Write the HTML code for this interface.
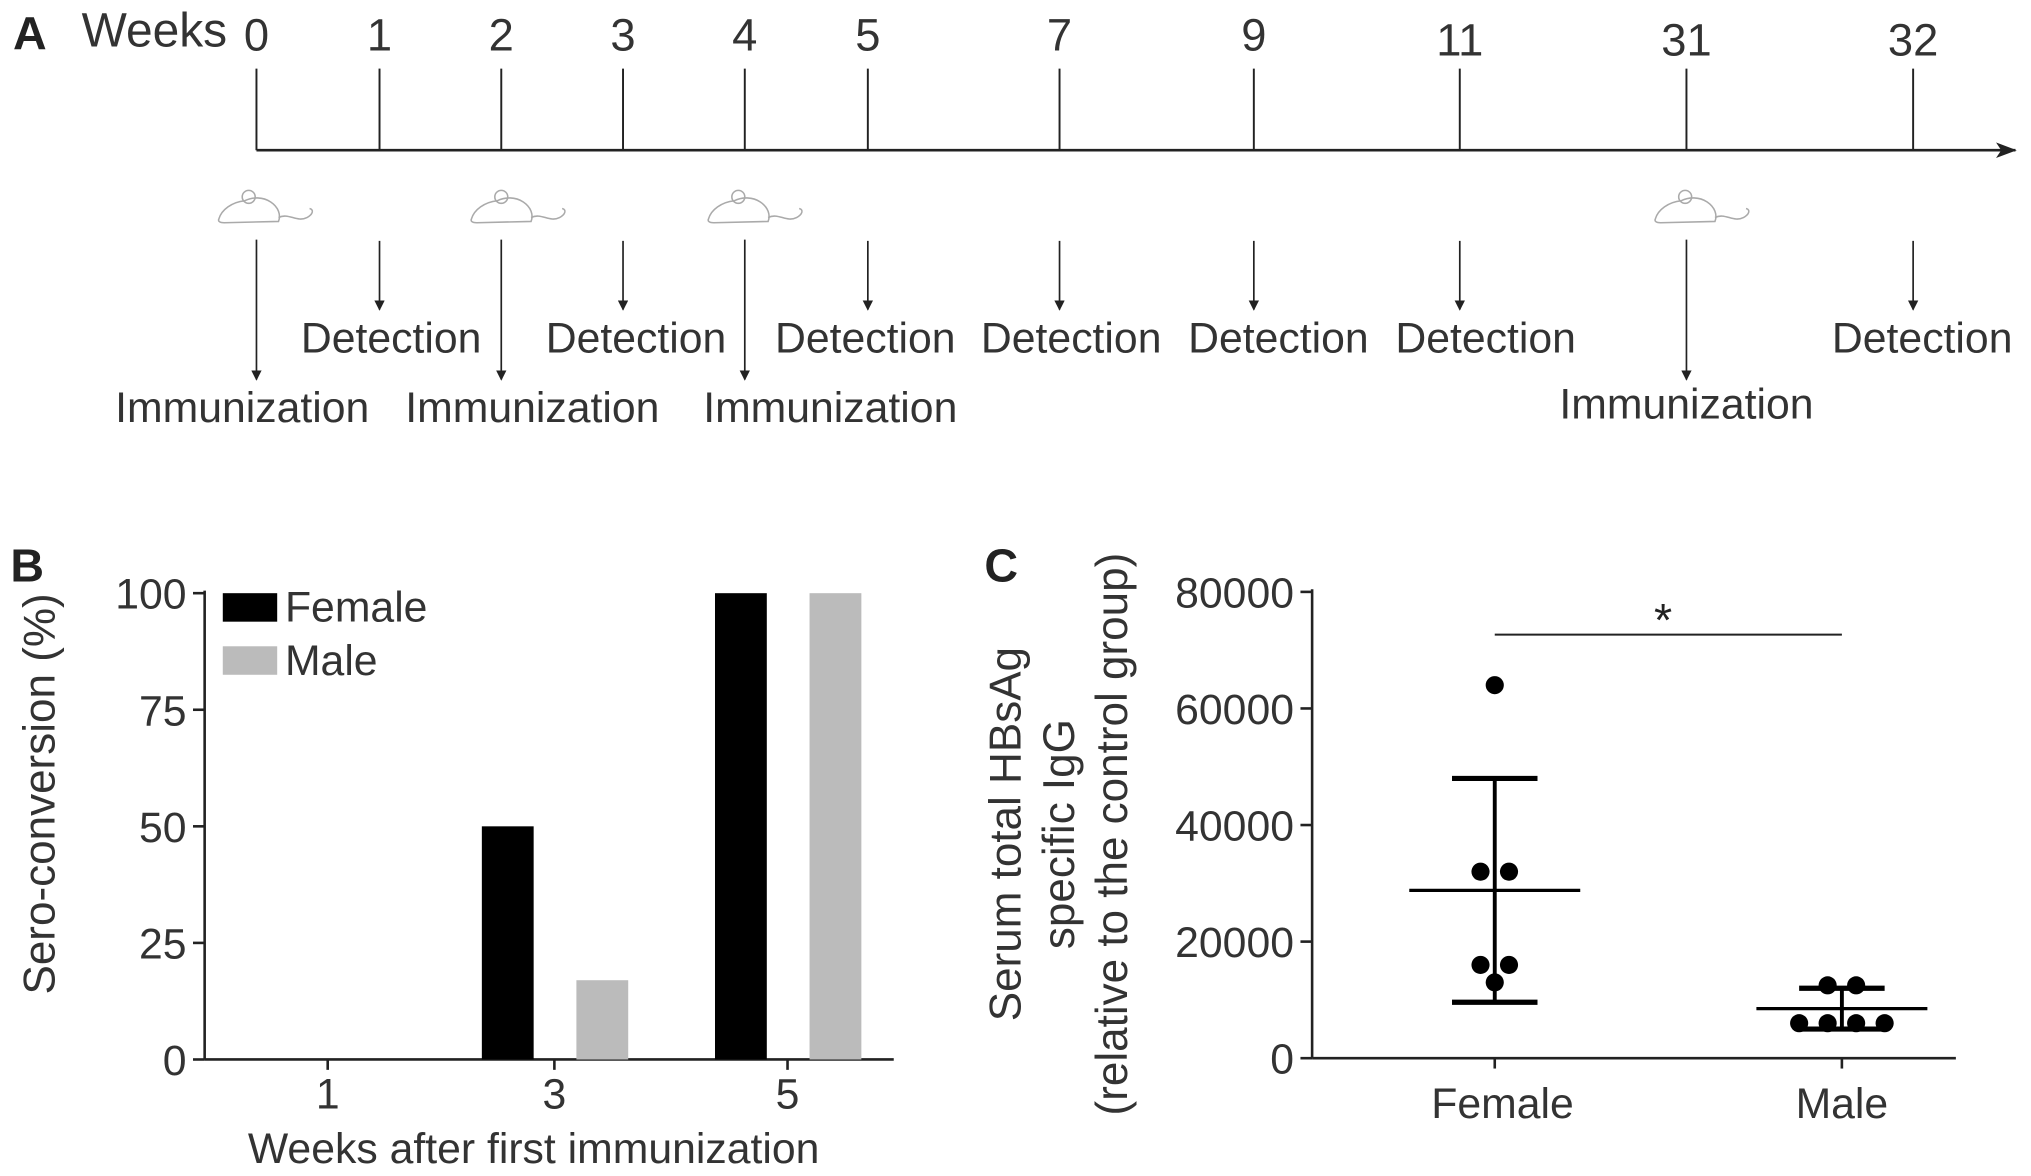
<!DOCTYPE html>
<html><head><meta charset="utf-8"><style>
html,body{margin:0;padding:0;background:#fff;}
svg{display:block;font-family:"Liberation Sans",sans-serif;}
</style></head><body>
<svg width="2031" height="1176" viewBox="0 0 1568 906" xmlns="http://www.w3.org/2000/svg">
<defs>
<marker id="ah" markerWidth="8" markerHeight="8" refX="7" refY="4" orient="auto" markerUnits="userSpaceOnUse"><path d="M0,0 L8,4 L0,8 Z" fill="#222"/></marker>
<marker id="ah2" markerWidth="16" markerHeight="12" refX="15" refY="6" orient="auto" markerUnits="userSpaceOnUse"><path d="M0,0 L16,6 L0,12 L4,6 Z" fill="#222"/></marker>
</defs>
<g id="panelA"></g>
<g id="panelB"></g>
<g id="panelC"></g>
</svg>
<script>
const NS="http://www.w3.org/2000/svg";
function mk(p,tag,a,txt){const e=document.createElementNS(NS,tag);for(const k in a)e.setAttribute(k,a[k]);if(txt!==undefined)e.textContent=txt;p.appendChild(e);return e;}

// Panel A data
const weekLabels=["0","1","2","3","4","5","7","9","11","31","32"];
const weekX=[198,293,387,481,575,670,818,968,1127,1302,1477];
const immunWeeks=["0","2","4","31"];
const detectWeeks=["1","3","5","7","9","11","32"];
// Panel B data
const bCategories=["1","3","5"];
const femaleSero=[0,50,100];
const maleSero=[0,17,100];
const bTicks=[0,25,50,75,100];
// Panel C data
const cGroups=["Female","Male"];
const femaleIgG=[64000,32000,32000,16000,16000,13000];
const maleIgG=[12500,12500,6000,6000,6000,6000];
const femaleMean=[28800]; const femaleSD=[19200];
const maleMean=[8500]; const maleSD=[3500];
const cTicks=[0,20000,40000,60000,80000];

// ---- Panel A
const A=document.getElementById('panelA');
let t=mk(A,'text',{x:10,y:37,'font-size':36,'font-weight':'bold',fill:'#222'},'A');

t=mk(A,'text',{x:63,y:35,'font-size':37,fill:'#333'},'Weeks');

let l=mk(A,'line',{x1:198,y1:115,x2:1556,y2:115,stroke:'#222','stroke-width':2,'marker-end':'url(#ah2)'});

function mouse(cx,cy){
  const g=mk(A,'g',{transform:`translate(${cx-38},${cy-15})`,fill:'none',stroke:'#aaa','stroke-width':1.2});
  
  mk(g,'path',{d:'M2,25 C4,18 12,12 22,11 C28,8 36,8 42,12 C48,16 50,22 48,27 L6,28 C3,28 1,27 2,25 Z'});
  mk(g,'circle',{cx:25,cy:8,r:5});
  mk(g,'path',{d:'M48,24 C56,20 62,28 70,24 C74,22 76,18 72,17'});
}
weekLabels.forEach((w,i)=>{
  const x=weekX[i];
  let e=mk(A,'line',{x1:x,y1:52,x2:x,y2:115,stroke:'#222','stroke-width':1.5});
  
  e=mk(A,'text',{x:x,y:i>=8?42:38,'font-size':35,'text-anchor':'middle',fill:'#333'},w);
  
  if(immunWeeks.includes(w)){
    mouse(x+(w==="31"?12:w==="0"?7:w==="2"?13:8),158);
    e=mk(A,'line',{x1:x,y1:184,x2:x,y2:292,stroke:'#222','stroke-width':1.3,'marker-end':'url(#ah)'});
    
    const off={"0":-11,"2":24,"4":66,"31":0}[w];
    e=mk(A,'text',{x:x+off,y:w==="31"?322:325,'font-size':33,'text-anchor':'middle',fill:'#333'},'Immunization');
    
  }
  if(detectWeeks.includes(w)){
    e=mk(A,'line',{x1:x,y1:185,x2:x,y2:238,stroke:'#222','stroke-width':1.3,'marker-end':'url(#ah)'});
    
    const off={"1":9,"3":10,"5":-2,"7":9,"9":19,"11":20,"32":7}[w];
    e=mk(A,'text',{x:x+off,y:271,'font-size':33,'text-anchor':'middle',fill:'#333'},'Detection');
    
  }
});

// ---- Panel B
const B=document.getElementById('panelB');
const bx0=158,bxEnd=690,by0=817,by100=457;
const bY=v=>by0+(by100-by0)*v/100;
const bCenter=[253,428,608];
t=mk(B,'text',{x:8,y:448,'font-size':36,'font-weight':'bold',fill:'#222'},'B');

l=mk(B,'line',{x1:bx0,y1:by100-2,x2:bx0,y2:by0,stroke:'#222','stroke-width':2});

l=mk(B,'line',{x1:bx0,y1:by0,x2:bxEnd,y2:by0,stroke:'#222','stroke-width':2});

bTicks.forEach(v=>{
  let e=mk(B,'line',{x1:bx0-9,y1:bY(v),x2:bx0,y2:bY(v),stroke:'#222','stroke-width':2});
  
  e=mk(B,'text',{x:bx0-14,y:bY(v)+12,'font-size':33,'text-anchor':'end',fill:'#333'},String(v));
  
});
bCategories.forEach((c,i)=>{
  const cx=bCenter[i];
  let e=mk(B,'line',{x1:cx,y1:by0,x2:cx,y2:by0+8,stroke:'#222','stroke-width':2});
  
  e=mk(B,'text',{x:cx,y:855,'font-size':33,'text-anchor':'middle',fill:'#333'},c);
  
  if(femaleSero[i]>0){
    e=mk(B,'rect',{x:cx-56,y:bY(femaleSero[i]),width:40,height:by0-bY(femaleSero[i]),fill:'#000'});
    
  }
  if(maleSero[i]>0){
    e=mk(B,'rect',{x:cx+17,y:bY(maleSero[i]),width:40,height:by0-bY(maleSero[i]),fill:'#bbb'});
    
  }
});
t=mk(B,'text',{x:412,y:897,'font-size':33,'text-anchor':'middle',fill:'#333'},'Weeks after first immunization');

t=mk(B,'text',{x:0,y:0,'font-size':34,'text-anchor':'middle',fill:'#333',transform:'translate(42,612) rotate(-90)'},'Sero-conversion (%)');

let lg=mk(B,'rect',{x:172,y:457,width:42,height:22,fill:'#000'});

lg=mk(B,'text',{x:220,y:479,'font-size':33,fill:'#333'},'Female');

lg=mk(B,'rect',{x:172,y:498,width:42,height:22,fill:'#bbb'});

lg=mk(B,'text',{x:220,y:520,'font-size':33,fill:'#333'},'Male');


// ---- Panel C
const C=document.getElementById('panelC');
const cx0=1013,cxEnd=1510,cy0=816,cyTop=456;
const cY=v=>cy0+(cyTop-cy0)*v/80000;
const cCenter=[1154,1422];
t=mk(C,'text',{x:760,y:448,'font-size':36,'font-weight':'bold',fill:'#222'},'C');

l=mk(C,'line',{x1:cx0,y1:cyTop-2,x2:cx0,y2:cy0,stroke:'#222','stroke-width':2});

l=mk(C,'line',{x1:cx0,y1:cy0,x2:cxEnd,y2:cy0,stroke:'#222','stroke-width':2});

cTicks.forEach(v=>{
  let e=mk(C,'line',{x1:cx0-9,y1:cY(v),x2:cx0,y2:cY(v),stroke:'#222','stroke-width':2});
  
  e=mk(C,'text',{x:cx0-14,y:cY(v)+12,'font-size':33,'text-anchor':'end',fill:'#333'},String(v));
  
});
cGroups.forEach((g,i)=>{
  let e=mk(C,'line',{x1:cCenter[i],y1:cy0,x2:cCenter[i],y2:cy0+8,stroke:'#222','stroke-width':2});
  
  e=mk(C,'text',{x:cCenter[i]+(i?0:6),y:862,'font-size':33,'text-anchor':'middle',fill:'#333'},g);
  
});
['Serum total HBsAg','specific IgG','(relative to the control group)'].forEach((s,i)=>{
  const e=mk(C,'text',{x:0,y:0,'font-size':34,'text-anchor':'middle',fill:'#333',transform:`translate(${788+i*41},643) rotate(-90)`},s);
  
});
function errbar(cx,mean,sd,name){
  let e=mk(C,'line',{x1:cx,y1:cY(mean+sd),x2:cx,y2:cY(Math.max(0,mean-sd)),stroke:'#000','stroke-width':3});
  
  e=mk(C,'line',{x1:cx-33,y1:cY(mean+sd),x2:cx+33,y2:cY(mean+sd),stroke:'#000','stroke-width':4});
  
  e=mk(C,'line',{x1:cx-33,y1:cY(mean-sd),x2:cx+33,y2:cY(mean-sd),stroke:'#000','stroke-width':4});
  
  e=mk(C,'line',{x1:cx-66,y1:cY(mean),x2:cx+66,y2:cY(mean),stroke:'#000','stroke-width':2.5});
  
}
errbar(cCenter[0],femaleMean[0],femaleSD[0],'female');
errbar(cCenter[1],maleMean[0],maleSD[0],'male');
function dots(cx,vals,name){
  const counts={};
  vals.forEach(v=>{counts[v]=(counts[v]||0)+1;});
  const seen={};
  vals.forEach(v=>{
    const n=counts[v],k=seen[v]=(seen[v]||0)+1;
    const x=cx+(k-1-(n-1)/2)*22;
    const e=mk(C,'circle',{cx:x,cy:cY(v),r:7,fill:'#000'});
    
  });
}
dots(cCenter[0],femaleIgG,'female');
dots(cCenter[1],maleIgG,'male');
l=mk(C,'line',{x1:1154,y1:489,x2:1422,y2:489,stroke:'#222','stroke-width':1.5});

t=mk(C,'text',{x:1284,y:490,'font-size':36,'text-anchor':'middle',fill:'#222'},'*');

</script>
</body></html>
